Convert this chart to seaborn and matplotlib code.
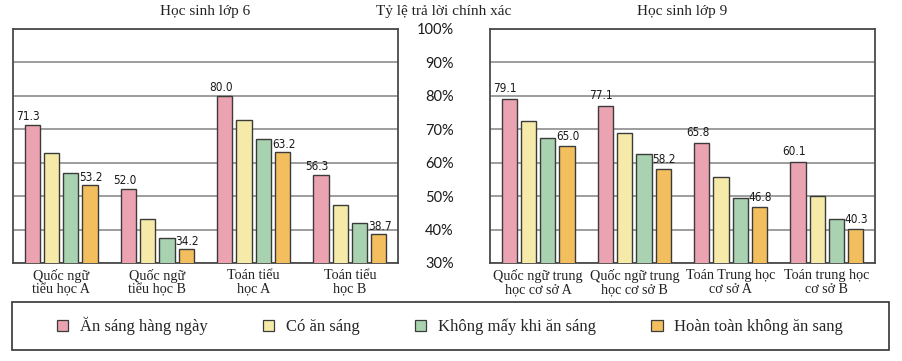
import matplotlib
matplotlib.use("Agg")
import matplotlib.pyplot as plt
from matplotlib.patches import Rectangle, Patch
import seaborn as sns
import pandas as pd

# ---------------- data ----------------
series = ["Ăn sáng hàng ngày", "Có ăn sáng", "Không mấy khi ăn sáng", "Hoàn toàn không ăn sang"]
cats6 = ["Quốc ngữ\ntiểu học A", "Quốc ngữ\ntiểu học B", "Toán tiểu\nhọc A", "Toán tiểu\nhọc B"]
cats9 = ["Quốc ngữ trung\nhọc cơ sở A", "Quốc ngữ trung\nhọc cơ sở B",
         "Toán Trung học\ncơ sở A", "Toán trung học\ncơ sở B"]

g6_daily = [71.3, 52.0, 80.0, 56.3]
g6_some = [62.8, 43.1, 72.8, 47.5]
g6_rarely = [57.0, 37.4, 67.0, 42.0]
g6_never = [53.2, 34.2, 63.2, 38.7]

g9_daily = [79.1, 77.1, 65.8, 60.1]
g9_some = [72.4, 68.8, 55.6, 49.9]
g9_rarely = [67.5, 62.5, 49.4, 43.3]
g9_never = [65.0, 58.2, 46.8, 40.3]

yticks = [30, 40, 50, 60, 70, 80, 90, 100]
ytick_labels = ["30%", "40%", "50%", "60%", "70%", "80%", "90%", "100%"]

title_main = "Tỷ lệ trả lời chính xác"
title6 = "Học sinh lớp 6"
title9 = "Học sinh lớp 9"

colors = ["#EBA3B1", "#F6EAA8", "#A8D2B0", "#F2BE5E"]
edge = "#3b3b3b"

SERIF = ["Liberation Serif", "DejaVu Serif"]
NARROW = ["DejaVu Sans", "Liberation Sans"]
SANS = ["Lato", "DejaVu Sans"]


def long_df(cats, cols):
    rows = []
    for s, vals in zip(series, cols):
        for c, v in zip(cats, vals):
            rows.append({"cat": c, "series": s, "value": v})
    return pd.DataFrame(rows)


df6 = long_df(cats6, [g6_daily, g6_some, g6_rarely, g6_never])
df9 = long_df(cats9, [g9_daily, g9_some, g9_rarely, g9_never])

sns.set_theme(style="white")
plt.rcParams["font.family"] = SERIF

fig = plt.figure(figsize=(9.02, 3.61), dpi=100)
W, H = 902, 361


def px_axes(x0, x1, ytop, ybot):
    return fig.add_axes([x0 / W, (H - ybot) / H, (x1 - x0) / W, (ybot - ytop) / H])


ax6 = px_axes(13, 398, 29, 263)
ax9 = px_axes(490, 875, 29, 263)

for ax, df, ttl, show_y, pink_dy, orange_dy in [
    (ax6, df6, title6, False, 5, 4),
    (ax9, df9, title9, True, 7, 6),
]:
    sns.barplot(data=df, x="cat", y="value", hue="series", hue_order=series,
                palette=colors, width=0.8, gap=0.2, edgecolor=edge, linewidth=1.0,
                saturation=1, ax=ax, legend=False, errorbar=None, zorder=3)
    ax.set_ylim(30, 100)
    ax.set_xlim(-0.5, 3.5)
    ax.set_yticks(yticks)
    ax.yaxis.grid(True, color="#8c8c8c", linewidth=1.2, zorder=0)
    ax.set_axisbelow(True)
    ax.set_xlabel("")
    ax.set_ylabel("")
    for sp in ax.spines.values():
        sp.set_visible(True)
        sp.set_color("#4a4a4a")
        sp.set_linewidth(1.3)
    ax.tick_params(axis="x", length=0, pad=4)
    for lab in ax.get_xticklabels():
        lab.set_fontfamily(SERIF)
        lab.set_fontsize(10.2)
        lab.set_color("#222222")
        lab.set_linespacing(1.1)
    if show_y:
        ax.set_yticklabels(ytick_labels)
        ax.tick_params(axis="y", length=0, pad=26, labelsize=10.5)
        for lab in ax.get_yticklabels():
            lab.set_fontfamily(SANS)
            lab.set_color("#1a1a1a")
    else:
        ax.tick_params(axis="y", length=0, labelleft=False)
    ax.set_title(ttl, fontsize=11, pad=10, color="#222222", fontfamily=SERIF)

    # value labels on first and last series
    for ci, dx, dy in [(0, -4, pink_dy), (3, 1, orange_dy)]:
        cont = ax.containers[ci]
        for p in cont.patches:
            v = p.get_height()
            ax.annotate(f"{v:.1f}", xy=(p.get_x() + p.get_width() / 2, v),
                        xytext=(dx, dy), textcoords="offset pixels",
                        ha="center", va="baseline", fontsize=8.5,
                        fontfamily=NARROW, fontstretch="condensed",
                        color="#1a1a1a", zorder=5)

fig.text(444 / W, 1 - 12 / H, title_main, ha="center", va="center",
         fontsize=11, color="#222222", fontfamily=SERIF)

# legend box
fig.patches.append(Rectangle((12 / W, (H - 350) / H), 877 / W, 48 / H,
                             transform=fig.transFigure, fill=False,
                             edgecolor="#333333", linewidth=1.2))
handles = [Patch(facecolor=c, edgecolor=edge, linewidth=0.9) for c in colors]
fig.legend(handles, series, loc="center", bbox_to_anchor=(450 / W, 1 - 326 / H),
           ncol=4, frameon=False, handlelength=0.7, handleheight=0.7,
           handletextpad=0.7, columnspacing=3.3,
           prop={"family": SERIF, "size": 12})

fig.savefig("out.png", dpi=100)
